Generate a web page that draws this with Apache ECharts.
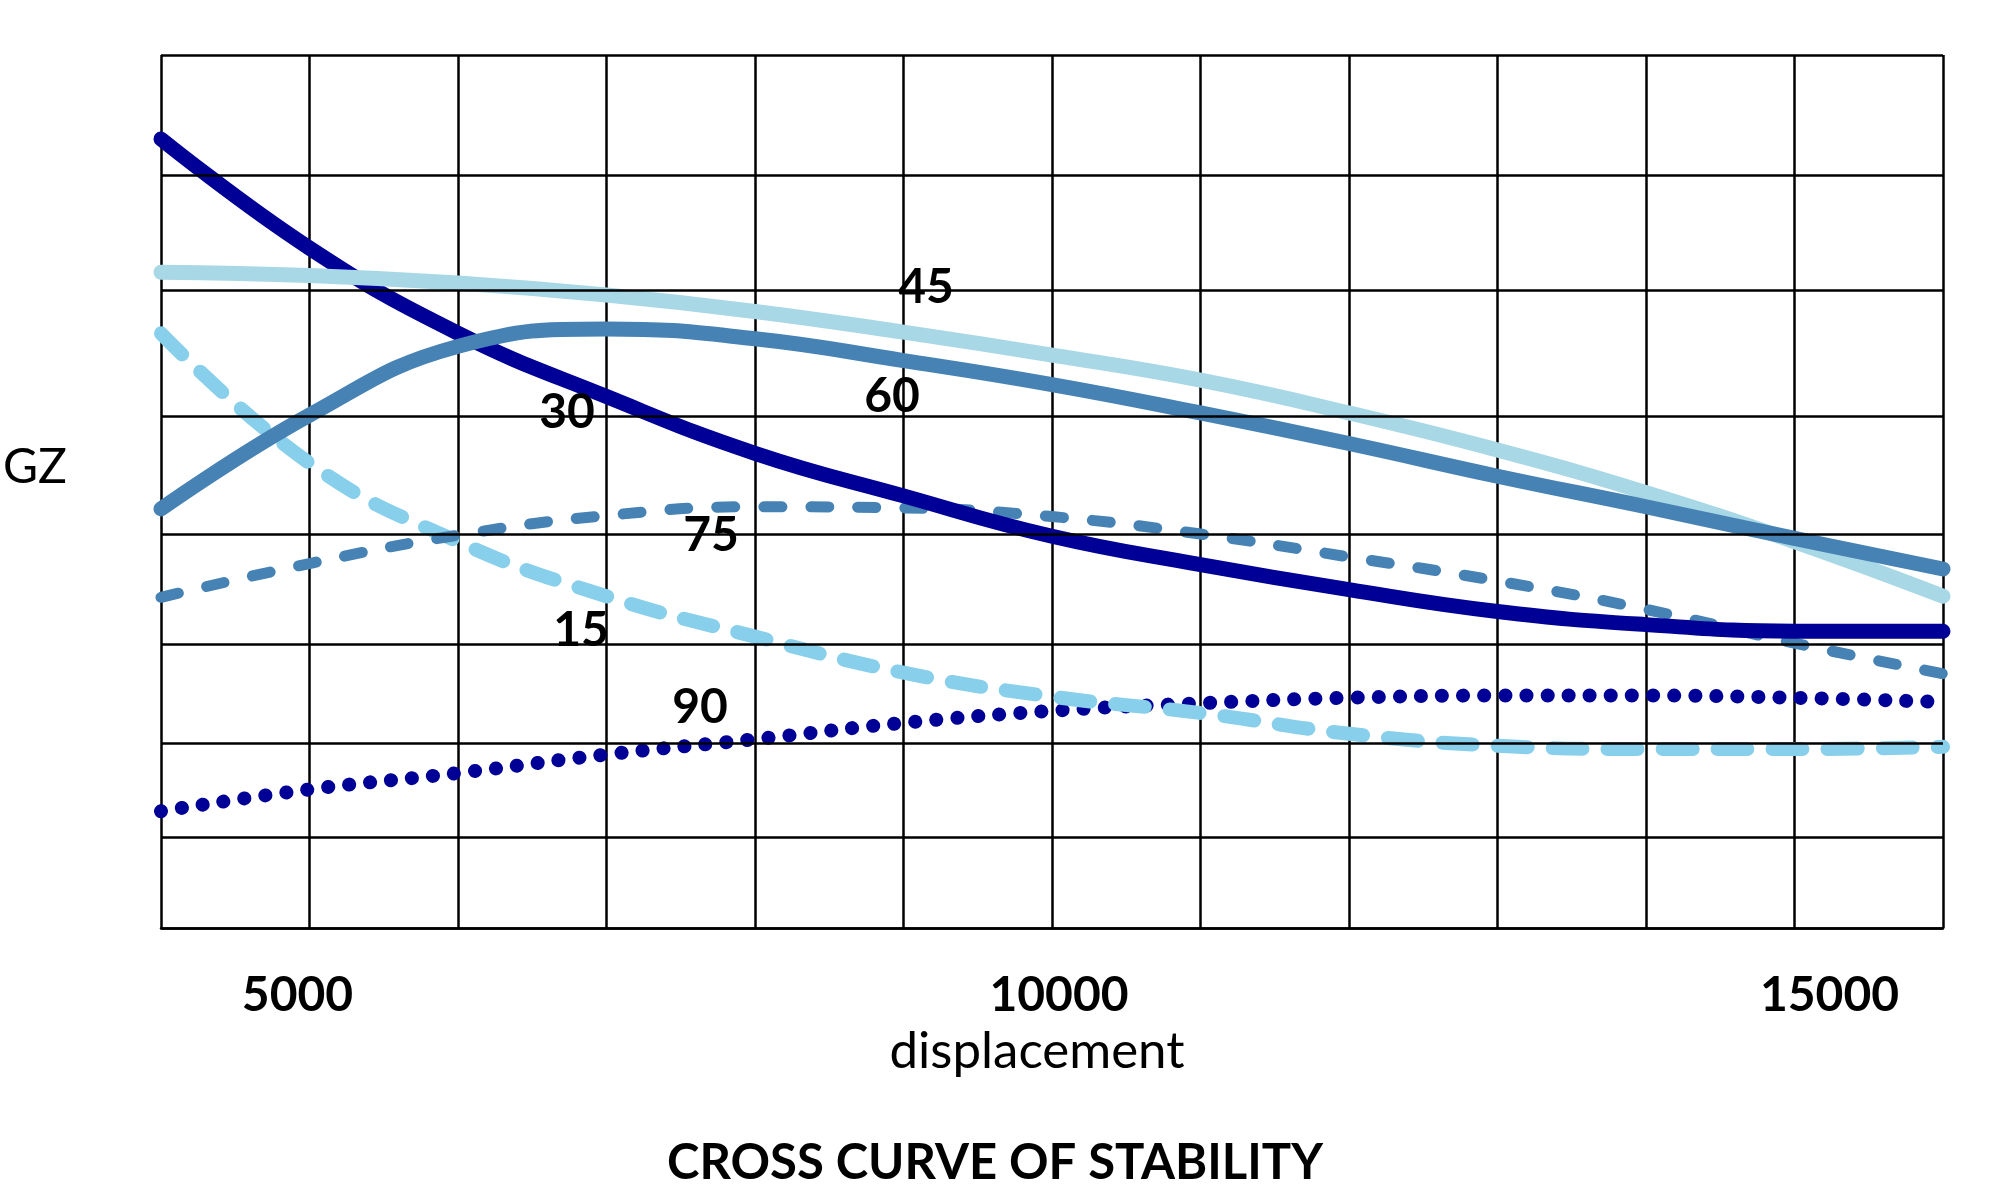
<!DOCTYPE html>
<html>
<head>
<meta charset="utf-8">
<title>Cross curve of stability</title>
<script src="https://cdn.jsdelivr.net/npm/echarts@6/dist/echarts.min.js"></script>
<style>
  html, body { margin: 0; padding: 0; background: #fff; }
  #chart { width: 2016px; height: 1200px; }
</style>
</head>
<body>
<div id="chart"></div>
<script>
// displacement steps (x), one reading per grid column
const displacement = [4000, 5000, 6000, 7000, 8000, 9000, 10000, 11000, 12000, 13000, 14000, 15000, 16000]
const xLabels = [5000, 10000, 15000]

// GZ readings per heel angle (arbitrary chart units, bottom of grid = 0)
const gz15 = [5.45, 4.26, 3.54, 3.04, 2.67, 2.34, 2.12, 1.97, 1.78, 1.67, 1.64, 1.64, 1.66]
const gz30 = [7.23, 6.23, 5.45, 4.87, 4.35, 3.96, 3.59, 3.33, 3.10, 2.90, 2.78, 2.72, 2.72]
const gz45 = [6.01, 5.98, 5.91, 5.80, 5.65, 5.46, 5.25, 5.02, 4.72, 4.38, 3.99, 3.54, 3.04]
const gz60 = [3.84, 4.70, 5.33, 5.49, 5.40, 5.20, 4.98, 4.72, 4.44, 4.14, 3.86, 3.57, 3.29]
const gz75 = [3.03, 3.34, 3.60, 3.78, 3.86, 3.85, 3.77, 3.61, 3.40, 3.18, 2.92, 2.61, 2.33]
const gz90 = [1.07, 1.27, 1.42, 1.59, 1.73, 1.88, 1.99, 2.06, 2.11, 2.13, 2.13, 2.11, 2.07]

// horizontal grid lines of the hand drawn sheet (not evenly spaced)
const gzLines = [0, 0.834, 1.689, 2.603, 3.606, 4.688, 5.845, 6.897, 8]

const font = 'Lato'
const tickFont = { fontFamily: font, fontWeight: 'bold', fontSize: 48, color: '#000' }

function pairs(ys){
    return displacement.map((x, i) => [x, ys[i]])
}

function curve(name, ys, color, width, type){
    return {
        name: name,
        type: 'line',
        data: pairs(ys),
        smooth: 0.45,
        symbol: 'none',
        z: 3,
        lineStyle: { color: color, width: width, type: type || 'solid', cap: 'round', join: 'round' }
    }
}

function label(text, x, y){
    return {
        type: 'text', x: x, y: y, z: 10,
        style: { text: text, font: 'bold 48px Lato', fill: '#000', align: 'center', verticalAlign: 'middle' }
    }
}

const chart = echarts.init(document.getElementById('chart'))

chart.setOption({
    animation: false,
    backgroundColor: '#fff',
    grid: { left: 161, right: 73, top: 55, bottom: 272 },
    title: {
        text: 'CROSS CURVE OF STABILITY',
        left: 990,
        top: 1134,
        textAlign: 'center',
        textStyle: { fontFamily: font, fontWeight: 'bold', fontSize: 49, color: '#000' }
    },
    xAxis: {
        type: 'value',
        min: 4000,
        max: 16000,
        interval: 1000,
        name: 'displacement',
        nameLocation: 'middle',
        nameGap: 98,
        nameTextStyle: { fontFamily: font, fontSize: 51, color: '#000', padding: [0, 30, 0, 0] },
        axisLine: { show: true, lineStyle: { color: '#000', width: 2.5 } },
        axisTick: { show: false },
        splitLine: { show: true, lineStyle: { color: '#000', width: 2.5 } },
        axisLabel: {
            margin: 44,
            ...tickFont,
            formatter: v => xLabels.includes(v) ? '{t' + v + '|' + v + '}' : '',
            rich: {
                t5000: { ...tickFont, padding: [0, 24, 0, 0] },
                t10000: { ...tickFont, padding: [0, 0, 0, 14] },
                t15000: { ...tickFont, padding: [0, 0, 0, 70] }
            }
        }
    },
    yAxis: {
        type: 'value',
        min: 0,
        max: 8,
        axisLine: { show: false },
        axisTick: { show: false },
        axisLabel: { show: false },
        splitLine: { show: false }
    },
    graphic: [
        { type: 'text', left: 3, top: 444, style: { text: 'GZ', font: '48px Lato', fill: '#000' } },
        label('45', 926, 288),
        label('60', 892, 397),
        label('30', 567, 413),
        label('75', 711, 536),
        label('15', 581, 631),
        label('90', 700, 708)
    ],
    series: [
        {
            name: 'grid',
            type: 'line',
            data: [],
            z: 1,
            silent: true,
            markLine: {
                silent: true,
                symbol: ['none', 'none'],
                label: { show: false },
                lineStyle: { color: '#000', width: 2.5, type: 'solid' },
                data: gzLines.map(v => ({ yAxis: v }))
            }
        },
        curve('90', gz90, '#000096', 14, [0.1, 21]),
        curve('15', gz15, '#87cfea', 14, [30, 25]),
        curve('75', gz75, '#4682b4', 11, [18, 29]),
        curve('30', gz30, '#000096', 15),
        curve('45', gz45, '#a8d8e6', 15),
        curve('60', gz60, '#4682b4', 15)
    ]
})
</script>
</body>
</html>
